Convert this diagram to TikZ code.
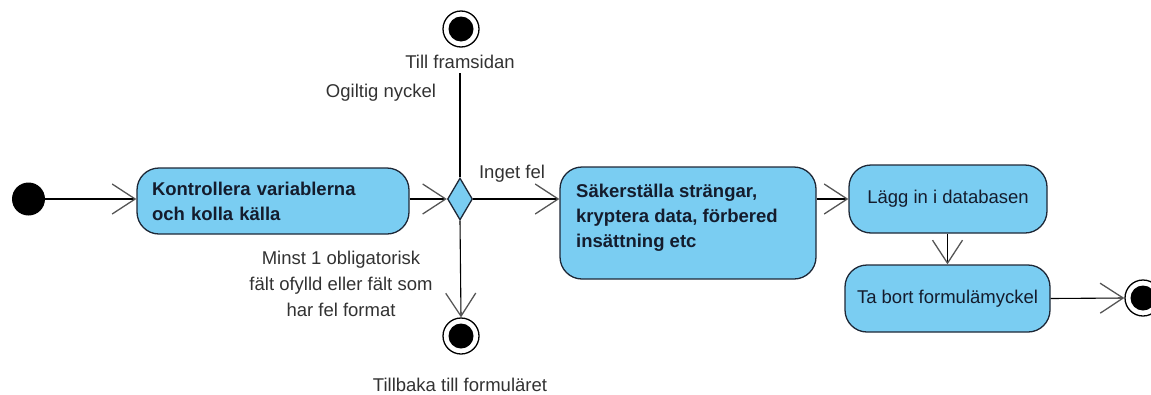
\documentclass[tikz,border=0pt]{standalone}
\usepackage{fontspec}
\setmainfont{Liberation Sans}
\usetikzlibrary{arrows.meta,shapes.geometric,calc}
\definecolor{actfill}{RGB}{122,205,242}
\definecolor{actline}{RGB}{30,40,55}
\definecolor{txt}{RGB}{20,28,45}
\definecolor{lbl}{RGB}{50,50,50}
\definecolor{tipc}{RGB}{85,85,85}
\begin{document}
\begin{tikzpicture}[x=1pt,y=-1pt,
  act/.style={draw=actline, fill=actfill, line width=1.3pt, rounded corners=22pt, inner sep=0pt, text=txt},
  bfont/.style={font=\fontsize{18.5}{25}\selectfont\bfseries},
  nfont/.style={font=\fontsize{18.5}{25}\selectfont},
  lab/.style={font=\fontsize{18.5}{26}\selectfont, text=lbl, inner sep=0pt},
  flow/.style={draw=black, line width=1.1pt, -{Straight Barb[length=23pt,width=30pt,line width=1.3pt,color=tipc]}},
  plainline/.style={draw=black, line width=1.1pt},
  initial/.style={circle, fill=black, minimum size=33pt, inner sep=0pt},
  final/.style={circle, draw=black, line width=1.3pt, fill=white, minimum size=36pt, inner sep=0pt,
    path picture={\fill[black] (path picture bounding box.center) circle (12.5pt);}},
  decision/.style={diamond, draw=actline, fill=actfill, line width=1.3pt, minimum width=25pt, minimum height=42pt, inner sep=0pt}
]
\useasboundingbox (0,0) rectangle (1151,394);

% nodes
\node[initial] (init) at (28.5,199) {};
\node[act, bfont, minimum width=272pt, minimum height=66pt, text width=242pt, align=left] (b1) at (273,201)
  {Kontrollera variablerna\\och kolla källa};
\node[decision] (dia) at (460,199) {};
\node[act, minimum width=256pt, minimum height=112pt] (b2) at (688,223) {};
\node[bfont, text=txt, anchor=north west, align=left, inner sep=0pt] (b2t) at (576,184)
  {Säkerställa strängar,\\kryptera data, förbered\\insättning etc};
\node[act, nfont, minimum width=198pt, minimum height=68pt] (b3) at (948,199) {Lägg in i databasen};
\node[act, nfont, minimum width=205pt, minimum height=67pt] (b4) at (947.5,298.5) {Ta bort formulämyckel};

\node[final] (ftop) at (461,29) {};
\node[final] (fbot) at (461,336) {};
\node[final] (fright) at (1143,298) {};

% labels
\node[lab, anchor=base] (ltop) at (460,68) {Till framsidan};
\coordinate (topend) at (460,73);
\node[lab, anchor=base] (logil) at (381,97) {Ogiltig nyckel};
\node[lab, anchor=base] (linget) at (512,178) {Inget fel};
\node[lab, align=center] (lminst) at (341,284)
  {Minst 1 obligatorisk\\fält ofylld eller fält som\\har fel format};
\node[lab, anchor=base] (lbot) at (460,391) {Tillbaka till formuläret};

% connectors
\draw[flow] (init) -- (b1.west |- init);
\draw[flow] (b1.east |- dia) -- (dia.west);
\draw[plainline] (dia.north) -- (topend);
\draw[flow] (dia.east) -- (dia.east -| b2.west);
\draw[flow] (dia.south) -- (fbot.north);
\draw[flow] (b3.west -| b2.east) -- (b3.west);
\draw[flow] (b4.north |- b3.south) -- (b4.north);
\draw[flow] (b4.east) -- (fright.west);
\end{tikzpicture}
\end{document}
